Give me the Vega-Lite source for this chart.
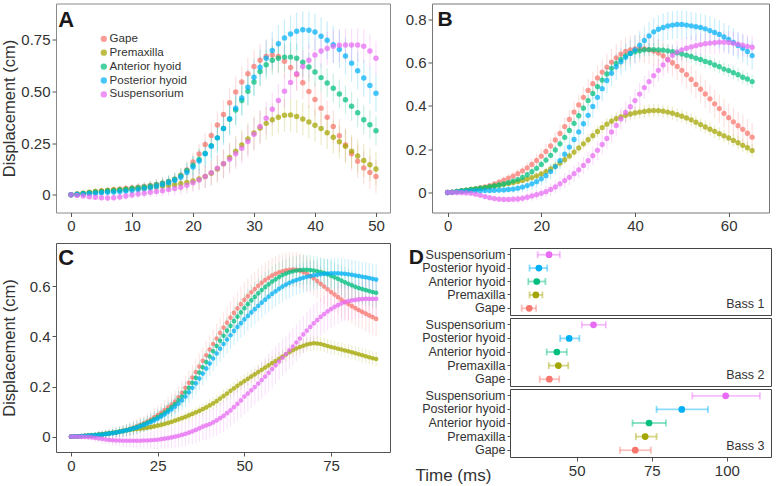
{
"$schema":"https://vega.github.io/schema/vega-lite/v6.json",
"padding":{"left":0,"top":2.5,"right":5,"bottom":0},
"background":"#ffffff",
"config":{"font":"Liberation Sans","view":{"stroke":"#777"},"axis":{"grid":false,"domain":false,"tickColor":"#555","tickSize":4,"labelColor":"#333","labelFontSize":15,"labelPadding":2,"titleColor":"#333","titleFontWeight":"normal","titleFontSize":16.5,"labelFont":"Liberation Sans","titleFont":"Liberation Sans"},"text":{"font":"Liberation Sans"}},
"datasets":{
"A":[
{"s":"G","t":0,"y":0,"e":0.005},{"s":"G","t":1,"y":0.003,"e":0.008},{"s":"G","t":2,"y":0.006,"e":0.01},{"s":"G","t":3,"y":0.01,"e":0.012},{"s":"G","t":4,"y":0.014,"e":0.014},{"s":"G","t":5,"y":0.018,"e":0.015},{"s":"G","t":6,"y":0.021,"e":0.016},{"s":"G","t":7,"y":0.024,"e":0.017},{"s":"G","t":8,"y":0.027,"e":0.018},{"s":"G","t":9,"y":0.03,"e":0.019},
{"s":"G","t":10,"y":0.033,"e":0.02},{"s":"G","t":11,"y":0.036,"e":0.021},{"s":"G","t":12,"y":0.04,"e":0.022},{"s":"G","t":13,"y":0.045,"e":0.024},{"s":"G","t":14,"y":0.05,"e":0.026},{"s":"G","t":15,"y":0.056,"e":0.028},{"s":"G","t":16,"y":0.064,"e":0.03},{"s":"G","t":17,"y":0.075,"e":0.033},{"s":"G","t":18,"y":0.095,"e":0.036},{"s":"G","t":19,"y":0.12,"e":0.04},
{"s":"G","t":20,"y":0.158,"e":0.045},{"s":"G","t":21,"y":0.197,"e":0.05},{"s":"G","t":22,"y":0.243,"e":0.055},{"s":"G","t":23,"y":0.287,"e":0.06},{"s":"G","t":24,"y":0.337,"e":0.065},{"s":"G","t":25,"y":0.388,"e":0.07},{"s":"G","t":26,"y":0.445,"e":0.072},{"s":"G","t":27,"y":0.497,"e":0.074},{"s":"G","t":28,"y":0.545,"e":0.076},{"s":"G","t":29,"y":0.585,"e":0.078},
{"s":"G","t":30,"y":0.62,"e":0.08},{"s":"G","t":31,"y":0.65,"e":0.08},{"s":"G","t":32,"y":0.668,"e":0.08},{"s":"G","t":33,"y":0.675,"e":0.08},{"s":"G","t":34,"y":0.668,"e":0.08},{"s":"G","t":35,"y":0.645,"e":0.08},{"s":"G","t":36,"y":0.615,"e":0.08},{"s":"G","t":37,"y":0.581,"e":0.08},{"s":"G","t":38,"y":0.541,"e":0.08},{"s":"G","t":39,"y":0.499,"e":0.08},
{"s":"G","t":40,"y":0.46,"e":0.08},{"s":"G","t":41,"y":0.418,"e":0.08},{"s":"G","t":42,"y":0.375,"e":0.08},{"s":"G","t":43,"y":0.33,"e":0.08},{"s":"G","t":44,"y":0.285,"e":0.08},{"s":"G","t":45,"y":0.24,"e":0.08},{"s":"G","t":46,"y":0.198,"e":0.08},{"s":"G","t":47,"y":0.162,"e":0.08},{"s":"G","t":48,"y":0.13,"e":0.08},{"s":"G","t":49,"y":0.108,"e":0.08},{"s":"G","t":50,"y":0.088,"e":0.08},
{"s":"P","t":0,"y":0,"e":0.005},{"s":"P","t":1,"y":0.004,"e":0.008},{"s":"P","t":2,"y":0.008,"e":0.01},{"s":"P","t":3,"y":0.012,"e":0.012},{"s":"P","t":4,"y":0.016,"e":0.014},{"s":"P","t":5,"y":0.019,"e":0.015},{"s":"P","t":6,"y":0.021,"e":0.016},{"s":"P","t":7,"y":0.023,"e":0.017},{"s":"P","t":8,"y":0.025,"e":0.018},{"s":"P","t":9,"y":0.027,"e":0.019},
{"s":"P","t":10,"y":0.029,"e":0.02},{"s":"P","t":11,"y":0.031,"e":0.021},{"s":"P","t":12,"y":0.033,"e":0.022},{"s":"P","t":13,"y":0.036,"e":0.024},{"s":"P","t":14,"y":0.039,"e":0.026},{"s":"P","t":15,"y":0.042,"e":0.028},{"s":"P","t":16,"y":0.045,"e":0.03},{"s":"P","t":17,"y":0.049,"e":0.033},{"s":"P","t":18,"y":0.054,"e":0.036},{"s":"P","t":19,"y":0.06,"e":0.04},
{"s":"P","t":20,"y":0.067,"e":0.045},{"s":"P","t":21,"y":0.076,"e":0.05},{"s":"P","t":22,"y":0.088,"e":0.055},{"s":"P","t":23,"y":0.104,"e":0.06},{"s":"P","t":24,"y":0.125,"e":0.065},{"s":"P","t":25,"y":0.15,"e":0.07},{"s":"P","t":26,"y":0.18,"e":0.072},{"s":"P","t":27,"y":0.21,"e":0.074},{"s":"P","t":28,"y":0.24,"e":0.076},{"s":"P","t":29,"y":0.27,"e":0.078},
{"s":"P","t":30,"y":0.298,"e":0.08},{"s":"P","t":31,"y":0.323,"e":0.08},{"s":"P","t":32,"y":0.345,"e":0.08},{"s":"P","t":33,"y":0.362,"e":0.08},{"s":"P","t":34,"y":0.375,"e":0.08},{"s":"P","t":35,"y":0.384,"e":0.08},{"s":"P","t":36,"y":0.386,"e":0.08},{"s":"P","t":37,"y":0.378,"e":0.08},{"s":"P","t":38,"y":0.366,"e":0.08},{"s":"P","t":39,"y":0.352,"e":0.08},
{"s":"P","t":40,"y":0.336,"e":0.08},{"s":"P","t":41,"y":0.32,"e":0.08},{"s":"P","t":42,"y":0.3,"e":0.08},{"s":"P","t":43,"y":0.278,"e":0.08},{"s":"P","t":44,"y":0.256,"e":0.08},{"s":"P","t":45,"y":0.235,"e":0.08},{"s":"P","t":46,"y":0.21,"e":0.08},{"s":"P","t":47,"y":0.188,"e":0.08},{"s":"P","t":48,"y":0.166,"e":0.08},{"s":"P","t":49,"y":0.145,"e":0.08},{"s":"P","t":50,"y":0.125,"e":0.08},
{"s":"A","t":0,"y":0,"e":0.005},{"s":"A","t":1,"y":0.003,"e":0.008},{"s":"A","t":2,"y":0.006,"e":0.01},{"s":"A","t":3,"y":0.009,"e":0.012},{"s":"A","t":4,"y":0.012,"e":0.014},{"s":"A","t":5,"y":0.015,"e":0.015},{"s":"A","t":6,"y":0.018,"e":0.016},{"s":"A","t":7,"y":0.02,"e":0.017},{"s":"A","t":8,"y":0.023,"e":0.018},{"s":"A","t":9,"y":0.026,"e":0.019},
{"s":"A","t":10,"y":0.03,"e":0.02},{"s":"A","t":11,"y":0.034,"e":0.021},{"s":"A","t":12,"y":0.038,"e":0.022},{"s":"A","t":13,"y":0.043,"e":0.024},{"s":"A","t":14,"y":0.049,"e":0.026},{"s":"A","t":15,"y":0.056,"e":0.028},{"s":"A","t":16,"y":0.064,"e":0.03},{"s":"A","t":17,"y":0.075,"e":0.033},{"s":"A","t":18,"y":0.092,"e":0.036},{"s":"A","t":19,"y":0.117,"e":0.04},
{"s":"A","t":20,"y":0.143,"e":0.045},{"s":"A","t":21,"y":0.17,"e":0.05},{"s":"A","t":22,"y":0.2,"e":0.055},{"s":"A","t":23,"y":0.237,"e":0.06},{"s":"A","t":24,"y":0.275,"e":0.065},{"s":"A","t":25,"y":0.32,"e":0.07},{"s":"A","t":26,"y":0.365,"e":0.07},{"s":"A","t":27,"y":0.41,"e":0.07},{"s":"A","t":28,"y":0.455,"e":0.07},{"s":"A","t":29,"y":0.5,"e":0.07},
{"s":"A","t":30,"y":0.545,"e":0.07},{"s":"A","t":31,"y":0.595,"e":0.07},{"s":"A","t":32,"y":0.628,"e":0.07},{"s":"A","t":33,"y":0.65,"e":0.07},{"s":"A","t":34,"y":0.66,"e":0.07},{"s":"A","t":35,"y":0.665,"e":0.07},{"s":"A","t":36,"y":0.665,"e":0.07},{"s":"A","t":37,"y":0.66,"e":0.07},{"s":"A","t":38,"y":0.64,"e":0.07},{"s":"A","t":39,"y":0.617,"e":0.07},
{"s":"A","t":40,"y":0.593,"e":0.07},{"s":"A","t":41,"y":0.566,"e":0.07},{"s":"A","t":42,"y":0.54,"e":0.07},{"s":"A","t":43,"y":0.515,"e":0.07},{"s":"A","t":44,"y":0.487,"e":0.07},{"s":"A","t":45,"y":0.459,"e":0.07},{"s":"A","t":46,"y":0.428,"e":0.07},{"s":"A","t":47,"y":0.396,"e":0.07},{"s":"A","t":48,"y":0.363,"e":0.07},{"s":"A","t":49,"y":0.338,"e":0.07},{"s":"A","t":50,"y":0.309,"e":0.07},
{"s":"H","t":0,"y":0,"e":0.005},{"s":"H","t":1,"y":0.002,"e":0.008},{"s":"H","t":2,"y":0.004,"e":0.01},{"s":"H","t":3,"y":0.006,"e":0.012},{"s":"H","t":4,"y":0.008,"e":0.014},{"s":"H","t":5,"y":0.01,"e":0.015},{"s":"H","t":6,"y":0.012,"e":0.016},{"s":"H","t":7,"y":0.014,"e":0.017},{"s":"H","t":8,"y":0.016,"e":0.018},{"s":"H","t":9,"y":0.018,"e":0.019},
{"s":"H","t":10,"y":0.021,"e":0.02},{"s":"H","t":11,"y":0.025,"e":0.021},{"s":"H","t":12,"y":0.029,"e":0.022},{"s":"H","t":13,"y":0.034,"e":0.024},{"s":"H","t":14,"y":0.04,"e":0.026},{"s":"H","t":15,"y":0.048,"e":0.028},{"s":"H","t":16,"y":0.058,"e":0.03},{"s":"H","t":17,"y":0.069,"e":0.033},{"s":"H","t":18,"y":0.085,"e":0.036},{"s":"H","t":19,"y":0.108,"e":0.04},
{"s":"H","t":20,"y":0.134,"e":0.055},{"s":"H","t":21,"y":0.163,"e":0.06},{"s":"H","t":22,"y":0.198,"e":0.065},{"s":"H","t":23,"y":0.235,"e":0.07},{"s":"H","t":24,"y":0.275,"e":0.075},{"s":"H","t":25,"y":0.32,"e":0.08},{"s":"H","t":26,"y":0.367,"e":0.082},{"s":"H","t":27,"y":0.418,"e":0.084},{"s":"H","t":28,"y":0.468,"e":0.086},{"s":"H","t":29,"y":0.52,"e":0.088},
{"s":"H","t":30,"y":0.568,"e":0.09},{"s":"H","t":31,"y":0.616,"e":0.09},{"s":"H","t":32,"y":0.66,"e":0.09},{"s":"H","t":33,"y":0.697,"e":0.09},{"s":"H","t":34,"y":0.73,"e":0.09},{"s":"H","t":35,"y":0.757,"e":0.09},{"s":"H","t":36,"y":0.777,"e":0.09},{"s":"H","t":37,"y":0.79,"e":0.09},{"s":"H","t":38,"y":0.797,"e":0.09},{"s":"H","t":39,"y":0.795,"e":0.09},
{"s":"H","t":40,"y":0.786,"e":0.09},{"s":"H","t":41,"y":0.766,"e":0.09},{"s":"H","t":42,"y":0.747,"e":0.09},{"s":"H","t":43,"y":0.725,"e":0.09},{"s":"H","t":44,"y":0.702,"e":0.09},{"s":"H","t":45,"y":0.67,"e":0.09},{"s":"H","t":46,"y":0.636,"e":0.09},{"s":"H","t":47,"y":0.599,"e":0.09},{"s":"H","t":48,"y":0.564,"e":0.09},{"s":"H","t":49,"y":0.528,"e":0.09},{"s":"H","t":50,"y":0.49,"e":0.09},
{"s":"S","t":0,"y":0,"e":0.005},{"s":"S","t":1,"y":-0.003,"e":0.008},{"s":"S","t":2,"y":-0.006,"e":0.01},{"s":"S","t":3,"y":-0.009,"e":0.012},{"s":"S","t":4,"y":-0.012,"e":0.014},{"s":"S","t":5,"y":-0.014,"e":0.015},{"s":"S","t":6,"y":-0.015,"e":0.016},{"s":"S","t":7,"y":-0.014,"e":0.017},{"s":"S","t":8,"y":-0.011,"e":0.018},{"s":"S","t":9,"y":-0.006,"e":0.019},
{"s":"S","t":10,"y":-0.001,"e":0.02},{"s":"S","t":11,"y":0.004,"e":0.021},{"s":"S","t":12,"y":0.008,"e":0.022},{"s":"S","t":13,"y":0.012,"e":0.024},{"s":"S","t":14,"y":0.016,"e":0.026},{"s":"S","t":15,"y":0.02,"e":0.028},{"s":"S","t":16,"y":0.025,"e":0.03},{"s":"S","t":17,"y":0.03,"e":0.033},{"s":"S","t":18,"y":0.037,"e":0.036},{"s":"S","t":19,"y":0.046,"e":0.04},
{"s":"S","t":20,"y":0.058,"e":0.045},{"s":"S","t":21,"y":0.072,"e":0.05},{"s":"S","t":22,"y":0.088,"e":0.055},{"s":"S","t":23,"y":0.107,"e":0.06},{"s":"S","t":24,"y":0.128,"e":0.065},{"s":"S","t":25,"y":0.15,"e":0.07},{"s":"S","t":26,"y":0.172,"e":0.072},{"s":"S","t":27,"y":0.198,"e":0.074},{"s":"S","t":28,"y":0.225,"e":0.076},{"s":"S","t":29,"y":0.257,"e":0.078},
{"s":"S","t":30,"y":0.293,"e":0.08},{"s":"S","t":31,"y":0.33,"e":0.08},{"s":"S","t":32,"y":0.37,"e":0.08},{"s":"S","t":33,"y":0.413,"e":0.08},{"s":"S","t":34,"y":0.455,"e":0.08},{"s":"S","t":35,"y":0.5,"e":0.08},{"s":"S","t":36,"y":0.543,"e":0.08},{"s":"S","t":37,"y":0.585,"e":0.08},{"s":"S","t":38,"y":0.62,"e":0.08},{"s":"S","t":39,"y":0.65,"e":0.08},
{"s":"S","t":40,"y":0.675,"e":0.08},{"s":"S","t":41,"y":0.695,"e":0.08},{"s":"S","t":42,"y":0.707,"e":0.08},{"s":"S","t":43,"y":0.717,"e":0.08},{"s":"S","t":44,"y":0.722,"e":0.08},{"s":"S","t":45,"y":0.723,"e":0.08},{"s":"S","t":46,"y":0.723,"e":0.08},{"s":"S","t":47,"y":0.723,"e":0.08},{"s":"S","t":48,"y":0.718,"e":0.08},{"s":"S","t":49,"y":0.695,"e":0.08},{"s":"S","t":50,"y":0.66,"e":0.08}
],
"B":[
{"s":"G","t":0,"y":0,"e":0.002},{"s":"G","t":1,"y":0.002,"e":0.003},{"s":"G","t":2,"y":0.004,"e":0.004},{"s":"G","t":3,"y":0.007,"e":0.005},{"s":"G","t":4,"y":0.01,"e":0.006},{"s":"G","t":5,"y":0.013,"e":0.007},{"s":"G","t":6,"y":0.017,"e":0.008},{"s":"G","t":7,"y":0.021,"e":0.009},{"s":"G","t":8,"y":0.026,"e":0.01},{"s":"G","t":9,"y":0.032,"e":0.011},
{"s":"G","t":10,"y":0.04,"e":0.012},{"s":"G","t":11,"y":0.048,"e":0.014},{"s":"G","t":12,"y":0.057,"e":0.016},{"s":"G","t":13,"y":0.066,"e":0.018},{"s":"G","t":14,"y":0.076,"e":0.02},{"s":"G","t":15,"y":0.087,"e":0.022},{"s":"G","t":16,"y":0.1,"e":0.024},{"s":"G","t":17,"y":0.114,"e":0.026},{"s":"G","t":18,"y":0.13,"e":0.028},{"s":"G","t":19,"y":0.148,"e":0.03},
{"s":"G","t":20,"y":0.168,"e":0.032},{"s":"G","t":21,"y":0.19,"e":0.034},{"s":"G","t":22,"y":0.215,"e":0.036},{"s":"G","t":23,"y":0.243,"e":0.038},{"s":"G","t":24,"y":0.273,"e":0.04},{"s":"G","t":25,"y":0.305,"e":0.042},{"s":"G","t":26,"y":0.338,"e":0.044},{"s":"G","t":27,"y":0.372,"e":0.046},{"s":"G","t":28,"y":0.405,"e":0.048},{"s":"G","t":29,"y":0.44,"e":0.05},
{"s":"G","t":30,"y":0.472,"e":0.052},{"s":"G","t":31,"y":0.503,"e":0.054},{"s":"G","t":32,"y":0.53,"e":0.056},{"s":"G","t":33,"y":0.557,"e":0.058},{"s":"G","t":34,"y":0.58,"e":0.06},{"s":"G","t":35,"y":0.603,"e":0.061},{"s":"G","t":36,"y":0.623,"e":0.062},{"s":"G","t":37,"y":0.64,"e":0.063},{"s":"G","t":38,"y":0.652,"e":0.064},{"s":"G","t":39,"y":0.66,"e":0.065},
{"s":"G","t":40,"y":0.664,"e":0.065},{"s":"G","t":41,"y":0.665,"e":0.065},{"s":"G","t":42,"y":0.664,"e":0.065},{"s":"G","t":43,"y":0.66,"e":0.065},{"s":"G","t":44,"y":0.654,"e":0.065},{"s":"G","t":45,"y":0.645,"e":0.065},{"s":"G","t":46,"y":0.632,"e":0.065},{"s":"G","t":47,"y":0.616,"e":0.065},{"s":"G","t":48,"y":0.6,"e":0.065},{"s":"G","t":49,"y":0.583,"e":0.065},
{"s":"G","t":50,"y":0.565,"e":0.065},{"s":"G","t":51,"y":0.545,"e":0.065},{"s":"G","t":52,"y":0.523,"e":0.065},{"s":"G","t":53,"y":0.5,"e":0.065},{"s":"G","t":54,"y":0.478,"e":0.065},{"s":"G","t":55,"y":0.456,"e":0.065},{"s":"G","t":56,"y":0.433,"e":0.065},{"s":"G","t":57,"y":0.41,"e":0.065},{"s":"G","t":58,"y":0.388,"e":0.065},{"s":"G","t":59,"y":0.366,"e":0.065},
{"s":"G","t":60,"y":0.346,"e":0.065},{"s":"G","t":61,"y":0.327,"e":0.065},{"s":"G","t":62,"y":0.309,"e":0.065},{"s":"G","t":63,"y":0.292,"e":0.065},{"s":"G","t":64,"y":0.274,"e":0.065},{"s":"G","t":65,"y":0.256,"e":0.065},
{"s":"P","t":0,"y":0,"e":0.002},{"s":"P","t":1,"y":0.002,"e":0.002},{"s":"P","t":2,"y":0.005,"e":0.003},{"s":"P","t":3,"y":0.008,"e":0.003},{"s":"P","t":4,"y":0.011,"e":0.004},{"s":"P","t":5,"y":0.014,"e":0.004},{"s":"P","t":6,"y":0.017,"e":0.005},{"s":"P","t":7,"y":0.02,"e":0.005},{"s":"P","t":8,"y":0.023,"e":0.006},{"s":"P","t":9,"y":0.026,"e":0.006},
{"s":"P","t":10,"y":0.03,"e":0.007},{"s":"P","t":11,"y":0.034,"e":0.007},{"s":"P","t":12,"y":0.038,"e":0.008},{"s":"P","t":13,"y":0.042,"e":0.009},{"s":"P","t":14,"y":0.046,"e":0.01},{"s":"P","t":15,"y":0.051,"e":0.011},{"s":"P","t":16,"y":0.056,"e":0.012},{"s":"P","t":17,"y":0.062,"e":0.013},{"s":"P","t":18,"y":0.069,"e":0.014},{"s":"P","t":19,"y":0.077,"e":0.015},
{"s":"P","t":20,"y":0.086,"e":0.016},{"s":"P","t":21,"y":0.097,"e":0.017},{"s":"P","t":22,"y":0.109,"e":0.018},{"s":"P","t":23,"y":0.122,"e":0.019},{"s":"P","t":24,"y":0.136,"e":0.02},{"s":"P","t":25,"y":0.152,"e":0.021},{"s":"P","t":26,"y":0.169,"e":0.022},{"s":"P","t":27,"y":0.187,"e":0.023},{"s":"P","t":28,"y":0.206,"e":0.024},{"s":"P","t":29,"y":0.225,"e":0.025},
{"s":"P","t":30,"y":0.244,"e":0.026},{"s":"P","t":31,"y":0.263,"e":0.027},{"s":"P","t":32,"y":0.282,"e":0.028},{"s":"P","t":33,"y":0.3,"e":0.028},{"s":"P","t":34,"y":0.316,"e":0.029},{"s":"P","t":35,"y":0.33,"e":0.029},{"s":"P","t":36,"y":0.342,"e":0.03},{"s":"P","t":37,"y":0.35,"e":0.03},{"s":"P","t":38,"y":0.357,"e":0.03},{"s":"P","t":39,"y":0.363,"e":0.03},
{"s":"P","t":40,"y":0.368,"e":0.03},{"s":"P","t":41,"y":0.372,"e":0.03},{"s":"P","t":42,"y":0.375,"e":0.03},{"s":"P","t":43,"y":0.378,"e":0.03},{"s":"P","t":44,"y":0.379,"e":0.03},{"s":"P","t":45,"y":0.379,"e":0.03},{"s":"P","t":46,"y":0.376,"e":0.03},{"s":"P","t":47,"y":0.372,"e":0.03},{"s":"P","t":48,"y":0.367,"e":0.03},{"s":"P","t":49,"y":0.36,"e":0.03},
{"s":"P","t":50,"y":0.353,"e":0.03},{"s":"P","t":51,"y":0.345,"e":0.03},{"s":"P","t":52,"y":0.336,"e":0.03},{"s":"P","t":53,"y":0.325,"e":0.03},{"s":"P","t":54,"y":0.314,"e":0.03},{"s":"P","t":55,"y":0.303,"e":0.03},{"s":"P","t":56,"y":0.293,"e":0.03},{"s":"P","t":57,"y":0.283,"e":0.03},{"s":"P","t":58,"y":0.272,"e":0.03},{"s":"P","t":59,"y":0.262,"e":0.03},
{"s":"P","t":60,"y":0.252,"e":0.03},{"s":"P","t":61,"y":0.241,"e":0.03},{"s":"P","t":62,"y":0.23,"e":0.03},{"s":"P","t":63,"y":0.218,"e":0.03},{"s":"P","t":64,"y":0.207,"e":0.03},{"s":"P","t":65,"y":0.194,"e":0.03},
{"s":"A","t":0,"y":0,"e":0.002},{"s":"A","t":1,"y":0.002,"e":0.002},{"s":"A","t":2,"y":0.005,"e":0.003},{"s":"A","t":3,"y":0.008,"e":0.003},{"s":"A","t":4,"y":0.011,"e":0.004},{"s":"A","t":5,"y":0.014,"e":0.004},{"s":"A","t":6,"y":0.017,"e":0.005},{"s":"A","t":7,"y":0.02,"e":0.005},{"s":"A","t":8,"y":0.023,"e":0.006},{"s":"A","t":9,"y":0.027,"e":0.006},
{"s":"A","t":10,"y":0.031,"e":0.007},{"s":"A","t":11,"y":0.035,"e":0.007},{"s":"A","t":12,"y":0.04,"e":0.008},{"s":"A","t":13,"y":0.046,"e":0.009},{"s":"A","t":14,"y":0.053,"e":0.01},{"s":"A","t":15,"y":0.06,"e":0.011},{"s":"A","t":16,"y":0.07,"e":0.012},{"s":"A","t":17,"y":0.082,"e":0.013},{"s":"A","t":18,"y":0.096,"e":0.014},{"s":"A","t":19,"y":0.112,"e":0.015},
{"s":"A","t":20,"y":0.13,"e":0.016},{"s":"A","t":21,"y":0.15,"e":0.017},{"s":"A","t":22,"y":0.172,"e":0.018},{"s":"A","t":23,"y":0.197,"e":0.019},{"s":"A","t":24,"y":0.225,"e":0.02},{"s":"A","t":25,"y":0.255,"e":0.021},{"s":"A","t":26,"y":0.287,"e":0.022},{"s":"A","t":27,"y":0.32,"e":0.023},{"s":"A","t":28,"y":0.355,"e":0.024},{"s":"A","t":29,"y":0.39,"e":0.025},
{"s":"A","t":30,"y":0.425,"e":0.026},{"s":"A","t":31,"y":0.458,"e":0.027},{"s":"A","t":32,"y":0.49,"e":0.028},{"s":"A","t":33,"y":0.52,"e":0.028},{"s":"A","t":34,"y":0.548,"e":0.029},{"s":"A","t":35,"y":0.574,"e":0.029},{"s":"A","t":36,"y":0.597,"e":0.03},{"s":"A","t":37,"y":0.616,"e":0.03},{"s":"A","t":38,"y":0.632,"e":0.03},{"s":"A","t":39,"y":0.643,"e":0.03},
{"s":"A","t":40,"y":0.651,"e":0.03},{"s":"A","t":41,"y":0.656,"e":0.03},{"s":"A","t":42,"y":0.66,"e":0.03},{"s":"A","t":43,"y":0.661,"e":0.03},{"s":"A","t":44,"y":0.661,"e":0.03},{"s":"A","t":45,"y":0.66,"e":0.03},{"s":"A","t":46,"y":0.658,"e":0.03},{"s":"A","t":47,"y":0.655,"e":0.03},{"s":"A","t":48,"y":0.651,"e":0.03},{"s":"A","t":49,"y":0.646,"e":0.03},
{"s":"A","t":50,"y":0.641,"e":0.03},{"s":"A","t":51,"y":0.635,"e":0.03},{"s":"A","t":52,"y":0.629,"e":0.03},{"s":"A","t":53,"y":0.621,"e":0.03},{"s":"A","t":54,"y":0.615,"e":0.03},{"s":"A","t":55,"y":0.606,"e":0.03},{"s":"A","t":56,"y":0.6,"e":0.03},{"s":"A","t":57,"y":0.59,"e":0.03},{"s":"A","t":58,"y":0.582,"e":0.03},{"s":"A","t":59,"y":0.571,"e":0.03},
{"s":"A","t":60,"y":0.564,"e":0.03},{"s":"A","t":61,"y":0.554,"e":0.03},{"s":"A","t":62,"y":0.545,"e":0.03},{"s":"A","t":63,"y":0.533,"e":0.03},{"s":"A","t":64,"y":0.525,"e":0.03},{"s":"A","t":65,"y":0.513,"e":0.03},
{"s":"H","t":0,"y":0,"e":0.002},{"s":"H","t":1,"y":0.001,"e":0.003},{"s":"H","t":2,"y":0.003,"e":0.004},{"s":"H","t":3,"y":0.005,"e":0.005},{"s":"H","t":4,"y":0.006,"e":0.006},{"s":"H","t":5,"y":0.007,"e":0.007},{"s":"H","t":6,"y":0.008,"e":0.008},{"s":"H","t":7,"y":0.008,"e":0.009},{"s":"H","t":8,"y":0.009,"e":0.01},{"s":"H","t":9,"y":0.009,"e":0.011},
{"s":"H","t":10,"y":0.01,"e":0.012},{"s":"H","t":11,"y":0.011,"e":0.014},{"s":"H","t":12,"y":0.012,"e":0.016},{"s":"H","t":13,"y":0.014,"e":0.018},{"s":"H","t":14,"y":0.016,"e":0.02},{"s":"H","t":15,"y":0.02,"e":0.022},{"s":"H","t":16,"y":0.025,"e":0.024},{"s":"H","t":17,"y":0.032,"e":0.026},{"s":"H","t":18,"y":0.04,"e":0.028},{"s":"H","t":19,"y":0.05,"e":0.03},
{"s":"H","t":20,"y":0.063,"e":0.032},{"s":"H","t":21,"y":0.078,"e":0.034},{"s":"H","t":22,"y":0.097,"e":0.036},{"s":"H","t":23,"y":0.12,"e":0.038},{"s":"H","t":24,"y":0.147,"e":0.04},{"s":"H","t":25,"y":0.177,"e":0.042},{"s":"H","t":26,"y":0.21,"e":0.044},{"s":"H","t":27,"y":0.245,"e":0.046},{"s":"H","t":28,"y":0.28,"e":0.048},{"s":"H","t":29,"y":0.318,"e":0.05},
{"s":"H","t":30,"y":0.357,"e":0.052},{"s":"H","t":31,"y":0.398,"e":0.054},{"s":"H","t":32,"y":0.44,"e":0.056},{"s":"H","t":33,"y":0.48,"e":0.058},{"s":"H","t":34,"y":0.518,"e":0.06},{"s":"H","t":35,"y":0.552,"e":0.061},{"s":"H","t":36,"y":0.582,"e":0.062},{"s":"H","t":37,"y":0.605,"e":0.063},{"s":"H","t":38,"y":0.625,"e":0.064},{"s":"H","t":39,"y":0.643,"e":0.065},
{"s":"H","t":40,"y":0.66,"e":0.065},{"s":"H","t":41,"y":0.681,"e":0.065},{"s":"H","t":42,"y":0.703,"e":0.065},{"s":"H","t":43,"y":0.724,"e":0.065},{"s":"H","t":44,"y":0.743,"e":0.065},{"s":"H","t":45,"y":0.755,"e":0.065},{"s":"H","t":46,"y":0.763,"e":0.065},{"s":"H","t":47,"y":0.77,"e":0.065},{"s":"H","t":48,"y":0.774,"e":0.065},{"s":"H","t":49,"y":0.777,"e":0.065},
{"s":"H","t":50,"y":0.777,"e":0.065},{"s":"H","t":51,"y":0.774,"e":0.065},{"s":"H","t":52,"y":0.771,"e":0.065},{"s":"H","t":53,"y":0.767,"e":0.065},{"s":"H","t":54,"y":0.763,"e":0.065},{"s":"H","t":55,"y":0.757,"e":0.065},{"s":"H","t":56,"y":0.749,"e":0.065},{"s":"H","t":57,"y":0.74,"e":0.065},{"s":"H","t":58,"y":0.731,"e":0.065},{"s":"H","t":59,"y":0.719,"e":0.065},
{"s":"H","t":60,"y":0.708,"e":0.065},{"s":"H","t":61,"y":0.694,"e":0.065},{"s":"H","t":62,"y":0.68,"e":0.065},{"s":"H","t":63,"y":0.667,"e":0.065},{"s":"H","t":64,"y":0.652,"e":0.065},{"s":"H","t":65,"y":0.633,"e":0.065},
{"s":"S","t":0,"y":0,"e":0.002},{"s":"S","t":1,"y":0,"e":0.002},{"s":"S","t":2,"y":0,"e":0.003},{"s":"S","t":3,"y":-0.001,"e":0.004},{"s":"S","t":4,"y":-0.002,"e":0.005},{"s":"S","t":5,"y":-0.004,"e":0.006},{"s":"S","t":6,"y":-0.008,"e":0.006},{"s":"S","t":7,"y":-0.013,"e":0.007},{"s":"S","t":8,"y":-0.019,"e":0.008},{"s":"S","t":9,"y":-0.024,"e":0.009},
{"s":"S","t":10,"y":-0.028,"e":0.01},{"s":"S","t":11,"y":-0.031,"e":0.011},{"s":"S","t":12,"y":-0.032,"e":0.013},{"s":"S","t":13,"y":-0.032,"e":0.014},{"s":"S","t":14,"y":-0.031,"e":0.016},{"s":"S","t":15,"y":-0.03,"e":0.018},{"s":"S","t":16,"y":-0.027,"e":0.019},{"s":"S","t":17,"y":-0.022,"e":0.021},{"s":"S","t":18,"y":-0.016,"e":0.022},{"s":"S","t":19,"y":-0.01,"e":0.024},
{"s":"S","t":20,"y":-0.004,"e":0.026},{"s":"S","t":21,"y":0.004,"e":0.027},{"s":"S","t":22,"y":0.014,"e":0.029},{"s":"S","t":23,"y":0.026,"e":0.03},{"s":"S","t":24,"y":0.04,"e":0.032},{"s":"S","t":25,"y":0.055,"e":0.034},{"s":"S","t":26,"y":0.07,"e":0.035},{"s":"S","t":27,"y":0.087,"e":0.037},{"s":"S","t":28,"y":0.105,"e":0.038},{"s":"S","t":29,"y":0.125,"e":0.04},
{"s":"S","t":30,"y":0.147,"e":0.042},{"s":"S","t":31,"y":0.17,"e":0.043},{"s":"S","t":32,"y":0.195,"e":0.045},{"s":"S","t":33,"y":0.222,"e":0.046},{"s":"S","t":34,"y":0.25,"e":0.048},{"s":"S","t":35,"y":0.28,"e":0.049},{"s":"S","t":36,"y":0.31,"e":0.05},{"s":"S","t":37,"y":0.34,"e":0.05},{"s":"S","t":38,"y":0.37,"e":0.051},{"s":"S","t":39,"y":0.397,"e":0.052},
{"s":"S","t":40,"y":0.425,"e":0.052},{"s":"S","t":41,"y":0.455,"e":0.052},{"s":"S","t":42,"y":0.485,"e":0.052},{"s":"S","t":43,"y":0.513,"e":0.052},{"s":"S","t":44,"y":0.54,"e":0.052},{"s":"S","t":45,"y":0.565,"e":0.052},{"s":"S","t":46,"y":0.59,"e":0.052},{"s":"S","t":47,"y":0.613,"e":0.052},{"s":"S","t":48,"y":0.635,"e":0.052},{"s":"S","t":49,"y":0.65,"e":0.052},
{"s":"S","t":50,"y":0.66,"e":0.052},{"s":"S","t":51,"y":0.667,"e":0.052},{"s":"S","t":52,"y":0.673,"e":0.052},{"s":"S","t":53,"y":0.679,"e":0.052},{"s":"S","t":54,"y":0.684,"e":0.052},{"s":"S","t":55,"y":0.688,"e":0.052},{"s":"S","t":56,"y":0.691,"e":0.052},{"s":"S","t":57,"y":0.693,"e":0.052},{"s":"S","t":58,"y":0.695,"e":0.052},{"s":"S","t":59,"y":0.695,"e":0.052},
{"s":"S","t":60,"y":0.694,"e":0.052},{"s":"S","t":61,"y":0.69,"e":0.052},{"s":"S","t":62,"y":0.686,"e":0.052},{"s":"S","t":63,"y":0.681,"e":0.052},{"s":"S","t":64,"y":0.676,"e":0.052},{"s":"S","t":65,"y":0.672,"e":0.052}
],
"C":[
{"s":"G","t":0,"y":0,"e":0.005},{"s":"G","t":1,"y":0.001,"e":0.006},{"s":"G","t":2,"y":0.001,"e":0.008},{"s":"G","t":3,"y":0.002,"e":0.009},{"s":"G","t":4,"y":0.003,"e":0.01},{"s":"G","t":5,"y":0.004,"e":0.011},{"s":"G","t":6,"y":0.005,"e":0.013},{"s":"G","t":7,"y":0.006,"e":0.014},{"s":"G","t":8,"y":0.008,"e":0.015},{"s":"G","t":9,"y":0.009,"e":0.017},
{"s":"G","t":10,"y":0.011,"e":0.018},{"s":"G","t":11,"y":0.013,"e":0.019},{"s":"G","t":12,"y":0.015,"e":0.021},{"s":"G","t":13,"y":0.017,"e":0.022},{"s":"G","t":14,"y":0.02,"e":0.023},{"s":"G","t":15,"y":0.023,"e":0.025},{"s":"G","t":16,"y":0.027,"e":0.026},{"s":"G","t":17,"y":0.031,"e":0.027},{"s":"G","t":18,"y":0.036,"e":0.028},{"s":"G","t":19,"y":0.041,"e":0.03},
{"s":"G","t":20,"y":0.047,"e":0.031},{"s":"G","t":21,"y":0.053,"e":0.032},{"s":"G","t":22,"y":0.06,"e":0.034},{"s":"G","t":23,"y":0.068,"e":0.035},{"s":"G","t":24,"y":0.077,"e":0.036},{"s":"G","t":25,"y":0.086,"e":0.038},{"s":"G","t":26,"y":0.095,"e":0.039},{"s":"G","t":27,"y":0.106,"e":0.04},{"s":"G","t":28,"y":0.117,"e":0.041},{"s":"G","t":29,"y":0.128,"e":0.043},
{"s":"G","t":30,"y":0.14,"e":0.044},{"s":"G","t":31,"y":0.157,"e":0.045},{"s":"G","t":32,"y":0.175,"e":0.047},{"s":"G","t":33,"y":0.195,"e":0.048},{"s":"G","t":34,"y":0.215,"e":0.049},{"s":"G","t":35,"y":0.236,"e":0.051},{"s":"G","t":36,"y":0.258,"e":0.052},{"s":"G","t":37,"y":0.28,"e":0.053},{"s":"G","t":38,"y":0.303,"e":0.054},{"s":"G","t":39,"y":0.325,"e":0.056},
{"s":"G","t":40,"y":0.348,"e":0.057},{"s":"G","t":41,"y":0.37,"e":0.058},{"s":"G","t":42,"y":0.392,"e":0.06},{"s":"G","t":43,"y":0.414,"e":0.061},{"s":"G","t":44,"y":0.435,"e":0.062},{"s":"G","t":45,"y":0.455,"e":0.064},{"s":"G","t":46,"y":0.475,"e":0.065},{"s":"G","t":47,"y":0.494,"e":0.066},{"s":"G","t":48,"y":0.512,"e":0.067},{"s":"G","t":49,"y":0.529,"e":0.069},
{"s":"G","t":50,"y":0.546,"e":0.07},{"s":"G","t":51,"y":0.561,"e":0.07},{"s":"G","t":52,"y":0.576,"e":0.07},{"s":"G","t":53,"y":0.589,"e":0.07},{"s":"G","t":54,"y":0.602,"e":0.07},{"s":"G","t":55,"y":0.614,"e":0.07},{"s":"G","t":56,"y":0.625,"e":0.07},{"s":"G","t":57,"y":0.634,"e":0.07},{"s":"G","t":58,"y":0.643,"e":0.07},{"s":"G","t":59,"y":0.65,"e":0.07},
{"s":"G","t":60,"y":0.656,"e":0.07},{"s":"G","t":61,"y":0.66,"e":0.07},{"s":"G","t":62,"y":0.664,"e":0.07},{"s":"G","t":63,"y":0.666,"e":0.07},{"s":"G","t":64,"y":0.667,"e":0.07},{"s":"G","t":65,"y":0.666,"e":0.07},{"s":"G","t":66,"y":0.663,"e":0.07},{"s":"G","t":67,"y":0.657,"e":0.07},{"s":"G","t":68,"y":0.65,"e":0.07},{"s":"G","t":69,"y":0.641,"e":0.07},
{"s":"G","t":70,"y":0.632,"e":0.07},{"s":"G","t":71,"y":0.621,"e":0.07},{"s":"G","t":72,"y":0.61,"e":0.07},{"s":"G","t":73,"y":0.599,"e":0.07},{"s":"G","t":74,"y":0.588,"e":0.07},{"s":"G","t":75,"y":0.577,"e":0.07},{"s":"G","t":76,"y":0.567,"e":0.07},{"s":"G","t":77,"y":0.557,"e":0.07},{"s":"G","t":78,"y":0.547,"e":0.07},{"s":"G","t":79,"y":0.538,"e":0.07},
{"s":"G","t":80,"y":0.53,"e":0.07},{"s":"G","t":81,"y":0.521,"e":0.07},{"s":"G","t":82,"y":0.513,"e":0.07},{"s":"G","t":83,"y":0.505,"e":0.07},{"s":"G","t":84,"y":0.498,"e":0.07},{"s":"G","t":85,"y":0.491,"e":0.07},{"s":"G","t":86,"y":0.484,"e":0.07},{"s":"G","t":87,"y":0.477,"e":0.07},{"s":"G","t":88,"y":0.47,"e":0.07},
{"s":"P","t":0,"y":0,"e":0.003},{"s":"P","t":1,"y":0.001,"e":0.004},{"s":"P","t":2,"y":0.001,"e":0.004},{"s":"P","t":3,"y":0.002,"e":0.004},{"s":"P","t":4,"y":0.003,"e":0.005},{"s":"P","t":5,"y":0.004,"e":0.005},{"s":"P","t":6,"y":0.005,"e":0.006},{"s":"P","t":7,"y":0.006,"e":0.006},{"s":"P","t":8,"y":0.008,"e":0.007},{"s":"P","t":9,"y":0.009,"e":0.007},
{"s":"P","t":10,"y":0.011,"e":0.008},{"s":"P","t":11,"y":0.013,"e":0.008},{"s":"P","t":12,"y":0.015,"e":0.009},{"s":"P","t":13,"y":0.017,"e":0.009},{"s":"P","t":14,"y":0.02,"e":0.01},{"s":"P","t":15,"y":0.022,"e":0.01},{"s":"P","t":16,"y":0.025,"e":0.011},{"s":"P","t":17,"y":0.027,"e":0.011},{"s":"P","t":18,"y":0.029,"e":0.012},{"s":"P","t":19,"y":0.031,"e":0.012},
{"s":"P","t":20,"y":0.032,"e":0.013},{"s":"P","t":21,"y":0.034,"e":0.013},{"s":"P","t":22,"y":0.036,"e":0.014},{"s":"P","t":23,"y":0.038,"e":0.014},{"s":"P","t":24,"y":0.041,"e":0.015},{"s":"P","t":25,"y":0.044,"e":0.015},{"s":"P","t":26,"y":0.047,"e":0.016},{"s":"P","t":27,"y":0.051,"e":0.016},{"s":"P","t":28,"y":0.055,"e":0.017},{"s":"P","t":29,"y":0.059,"e":0.017},
{"s":"P","t":30,"y":0.064,"e":0.018},{"s":"P","t":31,"y":0.069,"e":0.018},{"s":"P","t":32,"y":0.074,"e":0.019},{"s":"P","t":33,"y":0.079,"e":0.019},{"s":"P","t":34,"y":0.085,"e":0.02},{"s":"P","t":35,"y":0.091,"e":0.02},{"s":"P","t":36,"y":0.097,"e":0.021},{"s":"P","t":37,"y":0.103,"e":0.021},{"s":"P","t":38,"y":0.11,"e":0.022},{"s":"P","t":39,"y":0.117,"e":0.022},
{"s":"P","t":40,"y":0.125,"e":0.023},{"s":"P","t":41,"y":0.133,"e":0.023},{"s":"P","t":42,"y":0.142,"e":0.024},{"s":"P","t":43,"y":0.152,"e":0.024},{"s":"P","t":44,"y":0.162,"e":0.025},{"s":"P","t":45,"y":0.172,"e":0.025},{"s":"P","t":46,"y":0.183,"e":0.026},{"s":"P","t":47,"y":0.193,"e":0.026},{"s":"P","t":48,"y":0.203,"e":0.027},{"s":"P","t":49,"y":0.213,"e":0.027},
{"s":"P","t":50,"y":0.222,"e":0.028},{"s":"P","t":51,"y":0.231,"e":0.028},{"s":"P","t":52,"y":0.24,"e":0.028},{"s":"P","t":53,"y":0.249,"e":0.028},{"s":"P","t":54,"y":0.258,"e":0.028},{"s":"P","t":55,"y":0.267,"e":0.028},{"s":"P","t":56,"y":0.276,"e":0.028},{"s":"P","t":57,"y":0.285,"e":0.028},{"s":"P","t":58,"y":0.294,"e":0.028},{"s":"P","t":59,"y":0.302,"e":0.028},
{"s":"P","t":60,"y":0.311,"e":0.028},{"s":"P","t":61,"y":0.32,"e":0.028},{"s":"P","t":62,"y":0.328,"e":0.028},{"s":"P","t":63,"y":0.337,"e":0.028},{"s":"P","t":64,"y":0.345,"e":0.028},{"s":"P","t":65,"y":0.352,"e":0.028},{"s":"P","t":66,"y":0.358,"e":0.028},{"s":"P","t":67,"y":0.363,"e":0.028},{"s":"P","t":68,"y":0.368,"e":0.028},{"s":"P","t":69,"y":0.371,"e":0.028},
{"s":"P","t":70,"y":0.373,"e":0.028},{"s":"P","t":71,"y":0.372,"e":0.028},{"s":"P","t":72,"y":0.37,"e":0.028},{"s":"P","t":73,"y":0.366,"e":0.028},{"s":"P","t":74,"y":0.362,"e":0.028},{"s":"P","t":75,"y":0.358,"e":0.028},{"s":"P","t":76,"y":0.355,"e":0.028},{"s":"P","t":77,"y":0.351,"e":0.028},{"s":"P","t":78,"y":0.348,"e":0.028},{"s":"P","t":79,"y":0.344,"e":0.028},
{"s":"P","t":80,"y":0.341,"e":0.028},{"s":"P","t":81,"y":0.337,"e":0.028},{"s":"P","t":82,"y":0.333,"e":0.028},{"s":"P","t":83,"y":0.329,"e":0.028},{"s":"P","t":84,"y":0.325,"e":0.028},{"s":"P","t":85,"y":0.321,"e":0.028},{"s":"P","t":86,"y":0.317,"e":0.028},{"s":"P","t":87,"y":0.313,"e":0.028},{"s":"P","t":88,"y":0.31,"e":0.028},
{"s":"A","t":0,"y":0,"e":0.005},{"s":"A","t":1,"y":0.001,"e":0.006},{"s":"A","t":2,"y":0.001,"e":0.007},{"s":"A","t":3,"y":0.002,"e":0.008},{"s":"A","t":4,"y":0.003,"e":0.009},{"s":"A","t":5,"y":0.004,"e":0.01},{"s":"A","t":6,"y":0.005,"e":0.011},{"s":"A","t":7,"y":0.006,"e":0.013},{"s":"A","t":8,"y":0.008,"e":0.014},{"s":"A","t":9,"y":0.009,"e":0.015},
{"s":"A","t":10,"y":0.011,"e":0.016},{"s":"A","t":11,"y":0.013,"e":0.017},{"s":"A","t":12,"y":0.015,"e":0.018},{"s":"A","t":13,"y":0.017,"e":0.019},{"s":"A","t":14,"y":0.02,"e":0.02},{"s":"A","t":15,"y":0.023,"e":0.022},{"s":"A","t":16,"y":0.026,"e":0.023},{"s":"A","t":17,"y":0.03,"e":0.024},{"s":"A","t":18,"y":0.034,"e":0.025},{"s":"A","t":19,"y":0.039,"e":0.026},
{"s":"A","t":20,"y":0.044,"e":0.027},{"s":"A","t":21,"y":0.05,"e":0.028},{"s":"A","t":22,"y":0.056,"e":0.029},{"s":"A","t":23,"y":0.063,"e":0.031},{"s":"A","t":24,"y":0.07,"e":0.032},{"s":"A","t":25,"y":0.078,"e":0.033},{"s":"A","t":26,"y":0.086,"e":0.034},{"s":"A","t":27,"y":0.096,"e":0.035},{"s":"A","t":28,"y":0.106,"e":0.036},{"s":"A","t":29,"y":0.118,"e":0.037},
{"s":"A","t":30,"y":0.13,"e":0.038},{"s":"A","t":31,"y":0.145,"e":0.039},{"s":"A","t":32,"y":0.16,"e":0.04},{"s":"A","t":33,"y":0.177,"e":0.042},{"s":"A","t":34,"y":0.195,"e":0.043},{"s":"A","t":35,"y":0.215,"e":0.044},{"s":"A","t":36,"y":0.235,"e":0.045},{"s":"A","t":37,"y":0.256,"e":0.046},{"s":"A","t":38,"y":0.277,"e":0.047},{"s":"A","t":39,"y":0.298,"e":0.048},
{"s":"A","t":40,"y":0.32,"e":0.049},{"s":"A","t":41,"y":0.341,"e":0.05},{"s":"A","t":42,"y":0.362,"e":0.051},{"s":"A","t":43,"y":0.383,"e":0.053},{"s":"A","t":44,"y":0.403,"e":0.054},{"s":"A","t":45,"y":0.423,"e":0.055},{"s":"A","t":46,"y":0.442,"e":0.056},{"s":"A","t":47,"y":0.461,"e":0.057},{"s":"A","t":48,"y":0.479,"e":0.058},{"s":"A","t":49,"y":0.496,"e":0.059},
{"s":"A","t":50,"y":0.513,"e":0.06},{"s":"A","t":51,"y":0.529,"e":0.06},{"s":"A","t":52,"y":0.544,"e":0.06},{"s":"A","t":53,"y":0.558,"e":0.06},{"s":"A","t":54,"y":0.572,"e":0.06},{"s":"A","t":55,"y":0.585,"e":0.06},{"s":"A","t":56,"y":0.597,"e":0.06},{"s":"A","t":57,"y":0.608,"e":0.06},{"s":"A","t":58,"y":0.619,"e":0.06},{"s":"A","t":59,"y":0.628,"e":0.06},
{"s":"A","t":60,"y":0.637,"e":0.06},{"s":"A","t":61,"y":0.645,"e":0.06},{"s":"A","t":62,"y":0.651,"e":0.06},{"s":"A","t":63,"y":0.656,"e":0.06},{"s":"A","t":64,"y":0.66,"e":0.06},{"s":"A","t":65,"y":0.663,"e":0.06},{"s":"A","t":66,"y":0.665,"e":0.06},{"s":"A","t":67,"y":0.666,"e":0.06},{"s":"A","t":68,"y":0.666,"e":0.06},{"s":"A","t":69,"y":0.665,"e":0.06},
{"s":"A","t":70,"y":0.663,"e":0.06},{"s":"A","t":71,"y":0.66,"e":0.06},{"s":"A","t":72,"y":0.657,"e":0.06},{"s":"A","t":73,"y":0.653,"e":0.06},{"s":"A","t":74,"y":0.648,"e":0.06},{"s":"A","t":75,"y":0.642,"e":0.06},{"s":"A","t":76,"y":0.636,"e":0.06},{"s":"A","t":77,"y":0.63,"e":0.06},{"s":"A","t":78,"y":0.623,"e":0.06},{"s":"A","t":79,"y":0.616,"e":0.06},
{"s":"A","t":80,"y":0.61,"e":0.06},{"s":"A","t":81,"y":0.604,"e":0.06},{"s":"A","t":82,"y":0.598,"e":0.06},{"s":"A","t":83,"y":0.593,"e":0.06},{"s":"A","t":84,"y":0.589,"e":0.06},{"s":"A","t":85,"y":0.585,"e":0.06},{"s":"A","t":86,"y":0.581,"e":0.06},{"s":"A","t":87,"y":0.577,"e":0.06},{"s":"A","t":88,"y":0.574,"e":0.06},
{"s":"H","t":0,"y":0,"e":0.005},{"s":"H","t":1,"y":0.001,"e":0.006},{"s":"H","t":2,"y":0.001,"e":0.007},{"s":"H","t":3,"y":0.002,"e":0.008},{"s":"H","t":4,"y":0.003,"e":0.009},{"s":"H","t":5,"y":0.004,"e":0.01},{"s":"H","t":6,"y":0.005,"e":0.011},{"s":"H","t":7,"y":0.006,"e":0.013},{"s":"H","t":8,"y":0.007,"e":0.014},{"s":"H","t":9,"y":0.008,"e":0.015},
{"s":"H","t":10,"y":0.01,"e":0.016},{"s":"H","t":11,"y":0.012,"e":0.017},{"s":"H","t":12,"y":0.014,"e":0.018},{"s":"H","t":13,"y":0.016,"e":0.019},{"s":"H","t":14,"y":0.019,"e":0.02},{"s":"H","t":15,"y":0.022,"e":0.022},{"s":"H","t":16,"y":0.025,"e":0.023},{"s":"H","t":17,"y":0.028,"e":0.024},{"s":"H","t":18,"y":0.032,"e":0.025},{"s":"H","t":19,"y":0.036,"e":0.026},
{"s":"H","t":20,"y":0.041,"e":0.027},{"s":"H","t":21,"y":0.046,"e":0.028},{"s":"H","t":22,"y":0.052,"e":0.029},{"s":"H","t":23,"y":0.058,"e":0.031},{"s":"H","t":24,"y":0.065,"e":0.032},{"s":"H","t":25,"y":0.072,"e":0.033},{"s":"H","t":26,"y":0.08,"e":0.034},{"s":"H","t":27,"y":0.089,"e":0.035},{"s":"H","t":28,"y":0.099,"e":0.036},{"s":"H","t":29,"y":0.109,"e":0.037},
{"s":"H","t":30,"y":0.12,"e":0.038},{"s":"H","t":31,"y":0.132,"e":0.039},{"s":"H","t":32,"y":0.145,"e":0.04},{"s":"H","t":33,"y":0.16,"e":0.042},{"s":"H","t":34,"y":0.177,"e":0.043},{"s":"H","t":35,"y":0.195,"e":0.044},{"s":"H","t":36,"y":0.213,"e":0.045},{"s":"H","t":37,"y":0.232,"e":0.046},{"s":"H","t":38,"y":0.252,"e":0.047},{"s":"H","t":39,"y":0.272,"e":0.048},
{"s":"H","t":40,"y":0.292,"e":0.049},{"s":"H","t":41,"y":0.312,"e":0.05},{"s":"H","t":42,"y":0.332,"e":0.051},{"s":"H","t":43,"y":0.351,"e":0.053},{"s":"H","t":44,"y":0.37,"e":0.054},{"s":"H","t":45,"y":0.388,"e":0.055},{"s":"H","t":46,"y":0.405,"e":0.056},{"s":"H","t":47,"y":0.422,"e":0.057},{"s":"H","t":48,"y":0.438,"e":0.058},{"s":"H","t":49,"y":0.453,"e":0.059},
{"s":"H","t":50,"y":0.468,"e":0.06},{"s":"H","t":51,"y":0.482,"e":0.06},{"s":"H","t":52,"y":0.496,"e":0.06},{"s":"H","t":53,"y":0.509,"e":0.06},{"s":"H","t":54,"y":0.522,"e":0.06},{"s":"H","t":55,"y":0.535,"e":0.06},{"s":"H","t":56,"y":0.547,"e":0.06},{"s":"H","t":57,"y":0.559,"e":0.06},{"s":"H","t":58,"y":0.57,"e":0.06},{"s":"H","t":59,"y":0.58,"e":0.06},
{"s":"H","t":60,"y":0.59,"e":0.06},{"s":"H","t":61,"y":0.599,"e":0.06},{"s":"H","t":62,"y":0.607,"e":0.06},{"s":"H","t":63,"y":0.614,"e":0.06},{"s":"H","t":64,"y":0.62,"e":0.06},{"s":"H","t":65,"y":0.625,"e":0.06},{"s":"H","t":66,"y":0.63,"e":0.06},{"s":"H","t":67,"y":0.634,"e":0.06},{"s":"H","t":68,"y":0.638,"e":0.06},{"s":"H","t":69,"y":0.641,"e":0.06},
{"s":"H","t":70,"y":0.644,"e":0.06},{"s":"H","t":71,"y":0.646,"e":0.06},{"s":"H","t":72,"y":0.648,"e":0.06},{"s":"H","t":73,"y":0.65,"e":0.06},{"s":"H","t":74,"y":0.651,"e":0.06},{"s":"H","t":75,"y":0.652,"e":0.06},{"s":"H","t":76,"y":0.652,"e":0.06},{"s":"H","t":77,"y":0.652,"e":0.06},{"s":"H","t":78,"y":0.651,"e":0.06},{"s":"H","t":79,"y":0.65,"e":0.06},
{"s":"H","t":80,"y":0.648,"e":0.06},{"s":"H","t":81,"y":0.646,"e":0.06},{"s":"H","t":82,"y":0.643,"e":0.06},{"s":"H","t":83,"y":0.641,"e":0.06},{"s":"H","t":84,"y":0.638,"e":0.06},{"s":"H","t":85,"y":0.636,"e":0.06},{"s":"H","t":86,"y":0.633,"e":0.06},{"s":"H","t":87,"y":0.63,"e":0.06},{"s":"H","t":88,"y":0.627,"e":0.06},
{"s":"S","t":0,"y":0,"e":0.005},{"s":"S","t":1,"y":0,"e":0.006},{"s":"S","t":2,"y":0,"e":0.008},{"s":"S","t":3,"y":-0.001,"e":0.009},{"s":"S","t":4,"y":-0.001,"e":0.01},{"s":"S","t":5,"y":-0.002,"e":0.011},{"s":"S","t":6,"y":-0.003,"e":0.013},{"s":"S","t":7,"y":-0.005,"e":0.014},{"s":"S","t":8,"y":-0.007,"e":0.015},{"s":"S","t":9,"y":-0.009,"e":0.017},
{"s":"S","t":10,"y":-0.011,"e":0.018},{"s":"S","t":11,"y":-0.013,"e":0.019},{"s":"S","t":12,"y":-0.014,"e":0.021},{"s":"S","t":13,"y":-0.015,"e":0.022},{"s":"S","t":14,"y":-0.015,"e":0.023},{"s":"S","t":15,"y":-0.016,"e":0.025},{"s":"S","t":16,"y":-0.016,"e":0.026},{"s":"S","t":17,"y":-0.016,"e":0.027},{"s":"S","t":18,"y":-0.016,"e":0.028},{"s":"S","t":19,"y":-0.016,"e":0.03},
{"s":"S","t":20,"y":-0.016,"e":0.031},{"s":"S","t":21,"y":-0.015,"e":0.032},{"s":"S","t":22,"y":-0.015,"e":0.034},{"s":"S","t":23,"y":-0.014,"e":0.035},{"s":"S","t":24,"y":-0.013,"e":0.036},{"s":"S","t":25,"y":-0.012,"e":0.038},{"s":"S","t":26,"y":-0.01,"e":0.039},{"s":"S","t":27,"y":-0.008,"e":0.04},{"s":"S","t":28,"y":-0.006,"e":0.041},{"s":"S","t":29,"y":-0.003,"e":0.043},
{"s":"S","t":30,"y":0,"e":0.044},{"s":"S","t":31,"y":0.003,"e":0.045},{"s":"S","t":32,"y":0.007,"e":0.047},{"s":"S","t":33,"y":0.011,"e":0.048},{"s":"S","t":34,"y":0.016,"e":0.049},{"s":"S","t":35,"y":0.021,"e":0.051},{"s":"S","t":36,"y":0.027,"e":0.052},{"s":"S","t":37,"y":0.033,"e":0.053},{"s":"S","t":38,"y":0.04,"e":0.054},{"s":"S","t":39,"y":0.045,"e":0.056},
{"s":"S","t":40,"y":0.05,"e":0.057},{"s":"S","t":41,"y":0.057,"e":0.058},{"s":"S","t":42,"y":0.065,"e":0.06},{"s":"S","t":43,"y":0.074,"e":0.061},{"s":"S","t":44,"y":0.083,"e":0.062},{"s":"S","t":45,"y":0.094,"e":0.064},{"s":"S","t":46,"y":0.105,"e":0.065},{"s":"S","t":47,"y":0.118,"e":0.066},{"s":"S","t":48,"y":0.131,"e":0.067},{"s":"S","t":49,"y":0.145,"e":0.069},
{"s":"S","t":50,"y":0.16,"e":0.07},{"s":"S","t":51,"y":0.172,"e":0.07},{"s":"S","t":52,"y":0.185,"e":0.07},{"s":"S","t":53,"y":0.198,"e":0.07},{"s":"S","t":54,"y":0.212,"e":0.07},{"s":"S","t":55,"y":0.226,"e":0.075},{"s":"S","t":56,"y":0.24,"e":0.075},{"s":"S","t":57,"y":0.255,"e":0.075},{"s":"S","t":58,"y":0.27,"e":0.075},{"s":"S","t":59,"y":0.285,"e":0.075},
{"s":"S","t":60,"y":0.3,"e":0.075},{"s":"S","t":61,"y":0.315,"e":0.075},{"s":"S","t":62,"y":0.33,"e":0.075},{"s":"S","t":63,"y":0.345,"e":0.075},{"s":"S","t":64,"y":0.36,"e":0.075},{"s":"S","t":65,"y":0.376,"e":0.075},{"s":"S","t":66,"y":0.392,"e":0.075},{"s":"S","t":67,"y":0.408,"e":0.075},{"s":"S","t":68,"y":0.423,"e":0.075},{"s":"S","t":69,"y":0.438,"e":0.075},
{"s":"S","t":70,"y":0.452,"e":0.075},{"s":"S","t":71,"y":0.465,"e":0.075},{"s":"S","t":72,"y":0.478,"e":0.075},{"s":"S","t":73,"y":0.489,"e":0.075},{"s":"S","t":74,"y":0.5,"e":0.075},{"s":"S","t":75,"y":0.509,"e":0.075},{"s":"S","t":76,"y":0.518,"e":0.075},{"s":"S","t":77,"y":0.525,"e":0.075},{"s":"S","t":78,"y":0.532,"e":0.075},{"s":"S","t":79,"y":0.537,"e":0.075},
{"s":"S","t":80,"y":0.541,"e":0.075},{"s":"S","t":81,"y":0.544,"e":0.075},{"s":"S","t":82,"y":0.546,"e":0.075},{"s":"S","t":83,"y":0.548,"e":0.075},{"s":"S","t":84,"y":0.549,"e":0.075},{"s":"S","t":85,"y":0.55,"e":0.075},{"s":"S","t":86,"y":0.55,"e":0.075},{"s":"S","t":87,"y":0.55,"e":0.075},{"s":"S","t":88,"y":0.55,"e":0.075}
],
"D":[
{"bass":"Bass 1","s":"Gape","m":34.2,"lo":31.7,"hi":36.5},{"bass":"Bass 1","s":"Premaxilla","m":36.4,"lo":34.3,"hi":38.6},{"bass":"Bass 1","s":"Anterior hyoid","m":36.7,"lo":33.9,"hi":39.6},{"bass":"Bass 1","s":"Posterior hyoid","m":37.4,"lo":34.3,"hi":40.2},{"bass":"Bass 1","s":"Suspensorium","m":40.8,"lo":37.0,"hi":44.4},
{"bass":"Bass 2","s":"Gape","m":40.9,"lo":37.7,"hi":44.2},{"bass":"Bass 2","s":"Premaxilla","m":43.9,"lo":40.7,"hi":47.2},{"bass":"Bass 2","s":"Anterior hyoid","m":43.4,"lo":40.0,"hi":46.7},{"bass":"Bass 2","s":"Posterior hyoid","m":47.5,"lo":44.5,"hi":50.9},{"bass":"Bass 2","s":"Suspensorium","m":55.6,"lo":51.7,"hi":59.7},
{"bass":"Bass 3","s":"Gape","m":69.5,"lo":64.4,"hi":74.7},{"bass":"Bass 3","s":"Premaxilla","m":72.8,"lo":69.7,"hi":76.6},{"bass":"Bass 3","s":"Anterior hyoid","m":74.1,"lo":68.6,"hi":79.7},{"bass":"Bass 3","s":"Posterior hyoid","m":85.0,"lo":76.6,"hi":93.7},{"bass":"Bass 3","s":"Suspensorium","m":99.6,"lo":88.5,"hi":111.0}
]
},
"spacing":7.5,
"resolve":{"scale":{"color":"independent"},"legend":{"color":"independent"}},
"vconcat":[
{"spacing":13,"resolve":{"scale":{"color":"independent"},"legend":{"color":"independent"}},
"hconcat":[
{"width":334,"height":209,"view":{"stroke":"#8a8a8a"},"data":{"name":"A"},
"layer":[
{"mark":{"type":"point","filled":true,"size":30,"opacity":0},
"encoding":{"x":{"field":"t","type":"quantitative","scale":{"domain":[-2.46,52.3],"nice":false,"zero":false},"axis":{"values":[0,10,20,30,40,50],"title":null}},
"y":{"field":"y","type":"quantitative","scale":{"domain":[-0.0855,0.924],"nice":false,"zero":false},"axis":{"values":[0,0.25,0.5,0.75],"labelExpr":"datum.value == 0 ? '0' : format(datum.value, '.2f')","title":"Displacement (cm)","minExtent":35,"maxExtent":35,"titlePadding":4}},
"color":{"field":"s","type":"nominal","scale":{"domain":["G","P","A","H","S"],"range":["#F8766D","#A3A500","#00BF7D","#00B0F6","#E76BF3"]},
"legend":{"orient":"none","legendX":42,"legendY":29.5,"title":null,"labelFontSize":11.6,"labelColor":"#333","symbolType":"circle","symbolSize":40,"symbolOpacity":0.72,"symbolStrokeWidth":0,"rowPadding":0.9,"padding":0,"labelOffset":0,"labelExpr":"datum.label == 'G' ? 'Gape' : datum.label == 'P' ? 'Premaxilla' : datum.label == 'A' ? 'Anterior hyoid' : datum.label == 'H' ? 'Posterior hyoid' : 'Suspensorium'"}}}},
{"mark":{"type":"errorbar","thickness":1.2,"opacity":0.22},
"encoding":{"x":{"field":"t","type":"quantitative","scale":{"domain":[-2.46,52.3],"nice":false,"zero":false},"axis":{"values":[0,10,20,30,40,50],"title":null}},
"y":{"field":"y","type":"quantitative","scale":{"domain":[-0.0855,0.924],"nice":false,"zero":false},"axis":{"values":[0,0.25,0.5,0.75],"labelExpr":"datum.value == 0 ? '0' : format(datum.value, '.2f')","title":"Displacement (cm)","minExtent":35,"maxExtent":35,"titlePadding":4}},
"yError":{"field":"e"},
"color":{"field":"s","type":"nominal","scale":{"domain":["G","P","A","H","S"],"range":["#F8766D","#A3A500","#00BF7D","#00B0F6","#E76BF3"]},
"legend":{"orient":"none","legendX":42,"legendY":29.5,"title":null,"labelFontSize":11.6,"labelColor":"#333","symbolType":"circle","symbolSize":40,"symbolOpacity":0.72,"symbolStrokeWidth":0,"rowPadding":0.9,"padding":0,"labelOffset":0,"labelExpr":"datum.label == 'G' ? 'Gape' : datum.label == 'P' ? 'Premaxilla' : datum.label == 'A' ? 'Anterior hyoid' : datum.label == 'H' ? 'Posterior hyoid' : 'Suspensorium'"}}}},
{"mark":{"type":"point","filled":true,"size":30,"opacity":0.72},
"encoding":{"x":{"field":"t","type":"quantitative","scale":{"domain":[-2.46,52.3],"nice":false,"zero":false},"axis":{"values":[0,10,20,30,40,50],"title":null}},
"y":{"field":"y","type":"quantitative","scale":{"domain":[-0.0855,0.924],"nice":false,"zero":false},"axis":{"values":[0,0.25,0.5,0.75],"labelExpr":"datum.value == 0 ? '0' : format(datum.value, '.2f')","title":"Displacement (cm)","minExtent":35,"maxExtent":35,"titlePadding":4}},
"color":{"field":"s","type":"nominal","scale":{"domain":["G","P","A","H","S"],"range":["#F8766D","#A3A500","#00BF7D","#00B0F6","#E76BF3"]},
"legend":{"orient":"none","legendX":42,"legendY":29.5,"title":null,"labelFontSize":11.6,"labelColor":"#333","symbolType":"circle","symbolSize":40,"symbolOpacity":0.72,"symbolStrokeWidth":0,"rowPadding":0.9,"padding":0,"labelOffset":0,"labelExpr":"datum.label == 'G' ? 'Gape' : datum.label == 'P' ? 'Premaxilla' : datum.label == 'A' ? 'Anterior hyoid' : datum.label == 'H' ? 'Posterior hyoid' : 'Suspensorium'"}}}},
{"data":{"values":[{}]},"mark":{"type":"text","text":"A","fontSize":22,"fontWeight":"bold","align":"left","baseline":"alphabetic","color":"#1a1a1a"},"encoding":{"x":{"datum":-2.09},"y":{"datum":0.809}}}
]},
{"width":337,"height":209,"view":{"stroke":"#777"},"data":{"name":"B"},
"layer":[
{"mark":{"type":"errorbar","thickness":1.2,"opacity":0.22},
"encoding":{"x":{"field":"t","type":"quantitative","scale":{"domain":[-3.32,68.6],"nice":false,"zero":false},"axis":{"values":[0,20,40,60],"title":null}},
"y":{"field":"y","type":"quantitative","scale":{"domain":[-0.0925,0.874],"nice":false,"zero":false},"axis":{"values":[0,0.2,0.4,0.6,0.8],"labelExpr":"datum.value == 0 ? '0' : format(datum.value, '.1f')","title":null}},
"yError":{"field":"e"},
"color":{"field":"s","type":"nominal","scale":{"domain":["G","P","A","H","S"],"range":["#F8766D","#A3A500","#00BF7D","#00B0F6","#E76BF3"]},"legend":null}}},
{"mark":{"type":"point","filled":true,"size":28,"opacity":0.72},
"encoding":{"x":{"field":"t","type":"quantitative","scale":{"domain":[-3.32,68.6],"nice":false,"zero":false},"axis":{"values":[0,20,40,60],"title":null}},
"y":{"field":"y","type":"quantitative","scale":{"domain":[-0.0925,0.874],"nice":false,"zero":false},"axis":{"values":[0,0.2,0.4,0.6,0.8],"labelExpr":"datum.value == 0 ? '0' : format(datum.value, '.1f')","title":null}},
"color":{"field":"s","type":"nominal","scale":{"domain":["G","P","A","H","S"],"range":["#F8766D","#A3A500","#00BF7D","#00B0F6","#E76BF3"]},"legend":null}}},
{"data":{"values":[{}]},"mark":{"type":"text","text":"B","fontSize":21,"fontWeight":"bold","align":"left","baseline":"alphabetic","color":"#1a1a1a"},"encoding":{"x":{"datum":-2.13},"y":{"datum":0.769}}}
]}
]},
{"spacing":17,"resolve":{"scale":{"color":"independent"},"legend":{"color":"independent"}},
"hconcat":[
{"width":334,"height":209,"view":{"stroke":"#555"},"data":{"name":"C"},
"layer":[
{"mark":{"type":"errorbar","thickness":1.1,"opacity":0.2},
"encoding":{"x":{"field":"t","type":"quantitative","scale":{"domain":[-4.33,92.0],"nice":false,"zero":false},"axis":{"values":[0,25,50,75],"title":null}},
"y":{"field":"y","type":"quantitative","scale":{"domain":[-0.061,0.773],"nice":false,"zero":false},"axis":{"values":[0,0.2,0.4,0.6],"labelExpr":"datum.value == 0 ? '0' : format(datum.value, '.1f')","title":"Displacement (cm)","minExtent":35,"maxExtent":35,"titlePadding":4}},
"yError":{"field":"e"},
"color":{"field":"s","type":"nominal","scale":{"domain":["G","P","A","H","S"],"range":["#F8766D","#A3A500","#00BF7D","#00B0F6","#E76BF3"]},"legend":null}}},
{"mark":{"type":"point","filled":true,"size":22,"opacity":0.75},
"encoding":{"x":{"field":"t","type":"quantitative","scale":{"domain":[-4.33,92.0],"nice":false,"zero":false},"axis":{"values":[0,25,50,75],"title":null}},
"y":{"field":"y","type":"quantitative","scale":{"domain":[-0.061,0.773],"nice":false,"zero":false},"axis":{"values":[0,0.2,0.4,0.6],"labelExpr":"datum.value == 0 ? '0' : format(datum.value, '.1f')","title":"Displacement (cm)","minExtent":35,"maxExtent":35,"titlePadding":4}},
"color":{"field":"s","type":"nominal","scale":{"domain":["G","P","A","H","S"],"range":["#F8766D","#A3A500","#00BF7D","#00B0F6","#E76BF3"]},"legend":null}}},
{"data":{"values":[{}]},"mark":{"type":"text","text":"C","fontSize":22,"fontWeight":"bold","align":"left","baseline":"alphabetic","color":"#1a1a1a"},"encoding":{"x":{"datum":-3.66},"y":{"datum":0.687}}}
]},
{"spacing":3,"bounds":"flush","resolve":{"scale":{"color":"independent"},"legend":{"color":"independent"}},
"vconcat":[
{"width":261,"height":2,"view":{"stroke":null},"data":{"values":[]},"mark":"point","encoding":{}},
{"width":261,"height":67,"view":{"stroke":"#444"},
"layer":[
{"data":{"name":"D"},"transform":[{"filter":"datum.bass == 'Bass 1'"}],"mark":{"type":"errorbar","ticks":{"size":7},"thickness":1.8,"opacity":0.45},
"encoding":{"x":{"field":"lo","type":"quantitative","scale":{"domain":[27.8,114.7],"nice":false,"zero":false},"axis":null},"x2":{"field":"hi"},
"y":{"field":"s","type":"nominal","sort":["Suspensorium","Posterior hyoid","Anterior hyoid","Premaxilla","Gape"],"axis":{"title":null,"labelFontSize":12.5,"tickSize":3,"labelPadding":2}},
"color":{"field":"s","type":"nominal","scale":{"domain":["Gape","Premaxilla","Anterior hyoid","Posterior hyoid","Suspensorium"],"range":["#F8766D","#A3A500","#00BF7D","#00B0F6","#E76BF3"]},"legend":null}}},
{"data":{"name":"D"},"transform":[{"filter":"datum.bass == 'Bass 1'"}],"mark":{"type":"point","filled":true,"size":45,"opacity":1},
"encoding":{"x":{"field":"m","type":"quantitative","scale":{"domain":[27.8,114.7],"nice":false,"zero":false},"axis":null},
"y":{"field":"s","type":"nominal","sort":["Suspensorium","Posterior hyoid","Anterior hyoid","Premaxilla","Gape"],"axis":{"title":null,"labelFontSize":12.5,"tickSize":3,"labelPadding":2}},
"color":{"field":"s","type":"nominal","scale":{"domain":["Gape","Premaxilla","Anterior hyoid","Posterior hyoid","Suspensorium"],"range":["#F8766D","#A3A500","#00BF7D","#00B0F6","#E76BF3"]},"legend":null}}},
{"data":{"values":[{}]},"mark":{"type":"text","text":"Bass 1","align":"right","baseline":"middle","dy":-4,"fontSize":12.5,"color":"#333"},"encoding":{"x":{"datum":112.5},"y":{"datum":"Gape","type":"nominal"}}},
{"data":{"values":[{}]},"mark":{"type":"text","text":"D","align":"left","baseline":"alphabetic","dy":9,"fontSize":21,"fontWeight":"bold","color":"#1a1a1a"},"encoding":{"x":{"datum":-5.95},"y":{"datum":"Suspensorium","type":"nominal"}}}
]},
{"width":261,"height":68,"view":{"stroke":"#444"},
"layer":[
{"data":{"name":"D"},"transform":[{"filter":"datum.bass == 'Bass 2'"}],"mark":{"type":"errorbar","ticks":{"size":7},"thickness":1.8,"opacity":0.45},
"encoding":{"x":{"field":"lo","type":"quantitative","scale":{"domain":[27.8,114.7],"nice":false,"zero":false},"axis":null},"x2":{"field":"hi"},
"y":{"field":"s","type":"nominal","sort":["Suspensorium","Posterior hyoid","Anterior hyoid","Premaxilla","Gape"],"axis":{"title":null,"labelFontSize":12.5,"tickSize":3,"labelPadding":2}},
"color":{"field":"s","type":"nominal","scale":{"domain":["Gape","Premaxilla","Anterior hyoid","Posterior hyoid","Suspensorium"],"range":["#F8766D","#A3A500","#00BF7D","#00B0F6","#E76BF3"]},"legend":null}}},
{"data":{"name":"D"},"transform":[{"filter":"datum.bass == 'Bass 2'"}],"mark":{"type":"point","filled":true,"size":45,"opacity":1},
"encoding":{"x":{"field":"m","type":"quantitative","scale":{"domain":[27.8,114.7],"nice":false,"zero":false},"axis":null},
"y":{"field":"s","type":"nominal","sort":["Suspensorium","Posterior hyoid","Anterior hyoid","Premaxilla","Gape"],"axis":{"title":null,"labelFontSize":12.5,"tickSize":3,"labelPadding":2}},
"color":{"field":"s","type":"nominal","scale":{"domain":["Gape","Premaxilla","Anterior hyoid","Posterior hyoid","Suspensorium"],"range":["#F8766D","#A3A500","#00BF7D","#00B0F6","#E76BF3"]},"legend":null}}},
{"data":{"values":[{}]},"mark":{"type":"text","text":"Bass 2","align":"right","baseline":"middle","dy":-4,"fontSize":12.5,"color":"#333"},"encoding":{"x":{"datum":112.5},"y":{"datum":"Gape","type":"nominal"}}}
]},
{"width":261,"height":68,"view":{"stroke":"#444"},
"layer":[
{"data":{"name":"D"},"transform":[{"filter":"datum.bass == 'Bass 3'"}],"mark":{"type":"errorbar","ticks":{"size":7},"thickness":1.8,"opacity":0.45},
"encoding":{"x":{"field":"lo","type":"quantitative","scale":{"domain":[27.8,114.7],"nice":false,"zero":false},"axis":{"values":[50,75,100],"title":"Time (ms)","titleX":-95,"titleY":23,"titleAlign":"left","titleBaseline":"alphabetic","titleFontSize":17}},"x2":{"field":"hi"},
"y":{"field":"s","type":"nominal","sort":["Suspensorium","Posterior hyoid","Anterior hyoid","Premaxilla","Gape"],"axis":{"title":null,"labelFontSize":12.5,"tickSize":3,"labelPadding":2}},
"color":{"field":"s","type":"nominal","scale":{"domain":["Gape","Premaxilla","Anterior hyoid","Posterior hyoid","Suspensorium"],"range":["#F8766D","#A3A500","#00BF7D","#00B0F6","#E76BF3"]},"legend":null}}},
{"data":{"name":"D"},"transform":[{"filter":"datum.bass == 'Bass 3'"}],"mark":{"type":"point","filled":true,"size":45,"opacity":1},
"encoding":{"x":{"field":"m","type":"quantitative","scale":{"domain":[27.8,114.7],"nice":false,"zero":false},"axis":{"values":[50,75,100],"title":"Time (ms)","titleX":-95,"titleY":23,"titleAlign":"left","titleBaseline":"alphabetic","titleFontSize":17}},
"y":{"field":"s","type":"nominal","sort":["Suspensorium","Posterior hyoid","Anterior hyoid","Premaxilla","Gape"],"axis":{"title":null,"labelFontSize":12.5,"tickSize":3,"labelPadding":2}},
"color":{"field":"s","type":"nominal","scale":{"domain":["Gape","Premaxilla","Anterior hyoid","Posterior hyoid","Suspensorium"],"range":["#F8766D","#A3A500","#00BF7D","#00B0F6","#E76BF3"]},"legend":null}}},
{"data":{"values":[{}]},"mark":{"type":"text","text":"Bass 3","align":"right","baseline":"middle","dy":-4,"fontSize":12.5,"color":"#333"},"encoding":{"x":{"datum":112.5},"y":{"datum":"Gape","type":"nominal"}}}
]}
]}
]}
]
}
